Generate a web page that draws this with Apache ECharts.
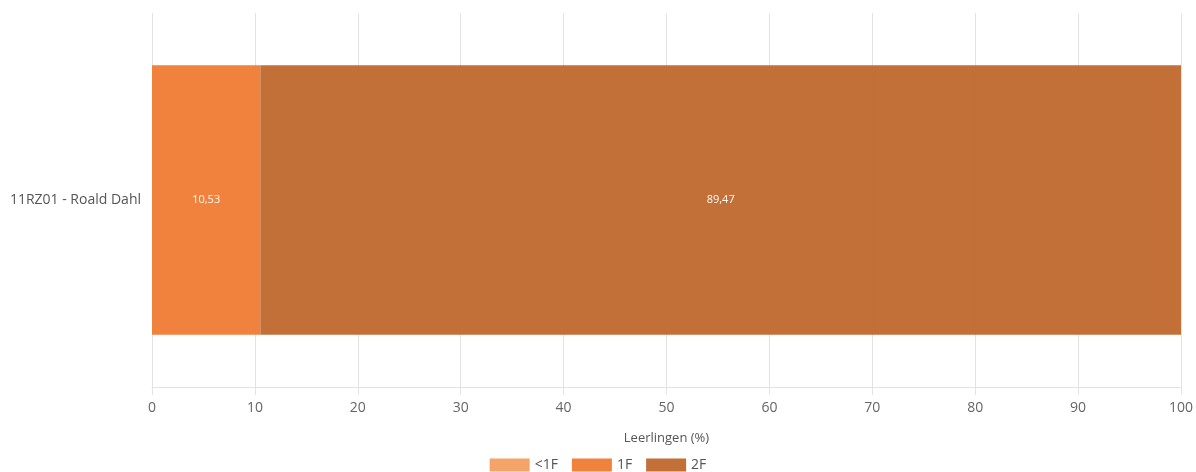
<!DOCTYPE html>
<html><head><meta charset="utf-8">
<script src="https://cdn.jsdelivr.net/npm/echarts@6/dist/echarts.min.js"></script>
<style>html,body{margin:0;padding:0;background:#fff}#c{width:1196px;height:472px}</style>
</head><body><div id="c"></div>
<script>
const categories = ['11RZ01 - Roald Dahl'];
const seriesNames = ['<1F', '1F', '2F'];
const valsLt1F = [0];
const vals1F = [10.53];
const vals2F = [89.47];
const colors = ['#F4A064', '#EF7E37', '#C06A32'];
const fmt = p => p.value ? p.value.toFixed(2).replace('.', ',') : '';
const font = '"Open Sans", sans-serif';
const mk = (name, data, color) => ({
  name, type: 'bar', stack: 'a', data, barWidth: '72%',
  itemStyle: { color, opacity: 0.97 },
  label: { show: true, position: 'inside', color: '#fff', fontSize: 11, fontFamily: font, formatter: fmt }
});
const chart = echarts.init(document.getElementById('c'));
chart.setOption({
  animation: false,
  textStyle: { fontFamily: font },
  grid: { left: 152, right: 14, top: 13, bottom: 85, containLabel: false },
  legend: {
    top: 453, left: 'center', itemWidth: 40, itemHeight: 13, itemGap: 14, icon: 'rect',
    textStyle: { color: '#555', fontSize: 14, fontFamily: font },
    data: seriesNames
  },
  xAxis: {
    type: 'value', min: 0, max: 100, interval: 10,
    name: 'Leerlingen (%)', nameLocation: 'middle', nameGap: 45,
    nameTextStyle: { color: '#555', fontSize: 13, fontFamily: font },
    axisLine: { show: true, lineStyle: { color: '#e3e3e3' } },
    axisTick: { show: true, length: 8, lineStyle: { color: '#e3e3e3' } },
    axisLabel: { color: '#666', fontSize: 14, margin: 14, fontFamily: font },
    splitLine: { show: true, lineStyle: { color: '#e3e3e3' } }
  },
  yAxis: {
    type: 'category', data: categories,
    axisLine: { show: false }, axisTick: { show: false },
    axisLabel: { color: '#555', fontSize: 14, margin: 11, fontFamily: font }
  },
  series: [mk(seriesNames[0], valsLt1F, colors[0]), mk(seriesNames[1], vals1F, colors[1]), mk(seriesNames[2], vals2F, colors[2])]
});
</script></body></html>
